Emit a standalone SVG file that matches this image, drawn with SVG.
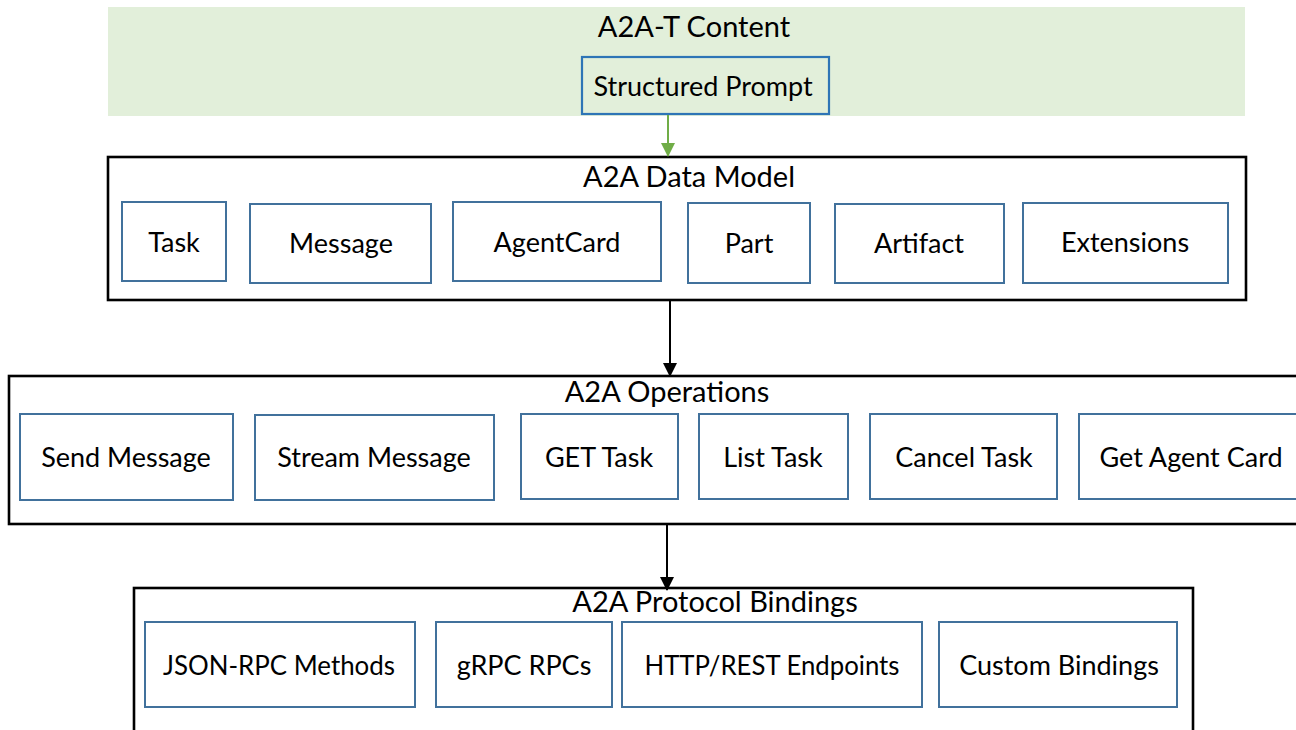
<svg xmlns="http://www.w3.org/2000/svg" width="1296" height="730" viewBox="0 0 1296 730">
  <defs>
    <style>
      .lbl { font-family: Lato, "Open Sans", "DejaVu Sans", sans-serif; font-size: 27px; fill: #000; text-anchor: middle; }
      .ttl { font-size: 29px; }
      .layer { fill: #fff; stroke: #000; stroke-width: 2.6; }
      .item { fill: #fff; stroke: #41719c; stroke-width: 2; }
      .prompt { fill: #e2efda; stroke: #2e75b6; stroke-width: 2.2; }
      .band { fill: #e2efda; }
      .flow { stroke: #000; stroke-width: 2; fill: none; }
      .flow-green { stroke: #70ad47; stroke-width: 2; fill: none; }
    </style>
    <marker id="arrowBlack" markerWidth="14" markerHeight="15" refX="13" refY="7" orient="auto" markerUnits="userSpaceOnUse">
      <path d="M0,0 L14,7 L0,14 Z" fill="#000"/>
    </marker>
    <marker id="arrowGreen" markerWidth="14" markerHeight="14" refX="13" refY="7" orient="auto" markerUnits="userSpaceOnUse">
      <path d="M0,0 L14,7 L0,14 Z" fill="#70ad47"/>
    </marker>
  </defs>

  <!-- A2A-T content layer -->
  <g id="content-layer">
    <rect class="band" x="108" y="7" width="1137" height="109"/>
    <text class="lbl ttl" x="694" y="37">A2A-T Content</text>
  </g>
  <g id="structured-prompt">
    <rect class="prompt" x="582" y="57" width="247" height="57"/>
    <text class="lbl" x="703" y="96">Structured Prompt</text>
  </g>

  <!-- Data model layer -->
  <g id="data-model">
    <rect class="layer" x="108" y="157" width="1138" height="143"/>
    <text class="lbl ttl" x="689" y="187">A2A Data Model</text>
  </g>
  <g id="dm-task">
    <rect class="item" x="122" y="202" width="104" height="79"/>
    <text class="lbl" x="174" y="252">Task</text>
  </g>
  <g id="dm-message">
    <rect class="item" x="250" y="204" width="181" height="79"/>
    <text class="lbl" x="341" y="253">Message</text>
  </g>
  <g id="dm-agentcard">
    <rect class="item" x="453" y="202" width="208" height="79"/>
    <text class="lbl" x="557" y="252">AgentCard</text>
  </g>
  <g id="dm-part">
    <rect class="item" x="688" y="203" width="122" height="80"/>
    <text class="lbl" x="749" y="253">Part</text>
  </g>
  <g id="dm-artifact">
    <rect class="item" x="835" y="204" width="169" height="79"/>
    <text class="lbl" x="919" y="253">Artifact</text>
  </g>
  <g id="dm-extensions">
    <rect class="item" x="1023" y="203" width="205" height="80"/>
    <text class="lbl" x="1125" y="252">Extensions</text>
  </g>

  <!-- Operations layer -->
  <g id="operations">
    <rect class="layer" x="9" y="376" width="1310" height="148"/>
    <text class="lbl ttl" x="667" y="402">A2A Operations</text>
  </g>
  <g id="op-send">
    <rect class="item" x="20" y="414" width="213" height="86"/>
    <text class="lbl" x="126" y="467">Send Message</text>
  </g>
  <g id="op-stream">
    <rect class="item" x="255" y="415" width="239" height="85"/>
    <text class="lbl" x="374" y="467">Stream Message</text>
  </g>
  <g id="op-get-task">
    <rect class="item" x="521" y="414" width="157" height="85"/>
    <text class="lbl" x="599" y="467">GET Task</text>
  </g>
  <g id="op-list-task">
    <rect class="item" x="699" y="414" width="149" height="85"/>
    <text class="lbl" x="773" y="467">List Task</text>
  </g>
  <g id="op-cancel-task">
    <rect class="item" x="870" y="414" width="187" height="85"/>
    <text class="lbl" x="964" y="467">Cancel Task</text>
  </g>
  <g id="op-agent-card">
    <rect class="item" x="1079" y="414" width="240" height="85"/>
    <text class="lbl" x="1191" y="467">Get Agent Card</text>
  </g>

  <!-- Protocol bindings layer -->
  <g id="bindings">
    <rect class="layer" x="134" y="588" width="1059" height="160"/>
    <text class="lbl ttl" x="715" y="612">A2A Protocol Bindings</text>
  </g>
  <g id="pb-jsonrpc">
    <rect class="item" x="145" y="622" width="270" height="85"/>
    <text class="lbl" x="279" y="675" textLength="232" lengthAdjust="spacingAndGlyphs">JSON-RPC Methods</text>
  </g>
  <g id="pb-grpc">
    <rect class="item" x="436" y="622" width="176" height="85"/>
    <text class="lbl" x="524" y="675">gRPC RPCs</text>
  </g>
  <g id="pb-http">
    <rect class="item" x="622" y="622" width="300" height="85"/>
    <text class="lbl" x="772" y="675" textLength="255" lengthAdjust="spacingAndGlyphs">HTTP/REST Endpoints</text>
  </g>
  <g id="pb-custom">
    <rect class="item" x="939" y="622" width="238" height="85"/>
    <text class="lbl" x="1059" y="675">Custom Bindings</text>
  </g>

  <!-- Connectors between layers -->
  <g id="connectors">
    <line class="flow-green" x1="668" y1="115" x2="668" y2="156" marker-end="url(#arrowGreen)"/>
    <line class="flow" x1="670" y1="301" x2="670" y2="376" marker-end="url(#arrowBlack)"/>
    <line class="flow" x1="667" y1="525" x2="667" y2="590" marker-end="url(#arrowBlack)"/>
  </g>
</svg>
